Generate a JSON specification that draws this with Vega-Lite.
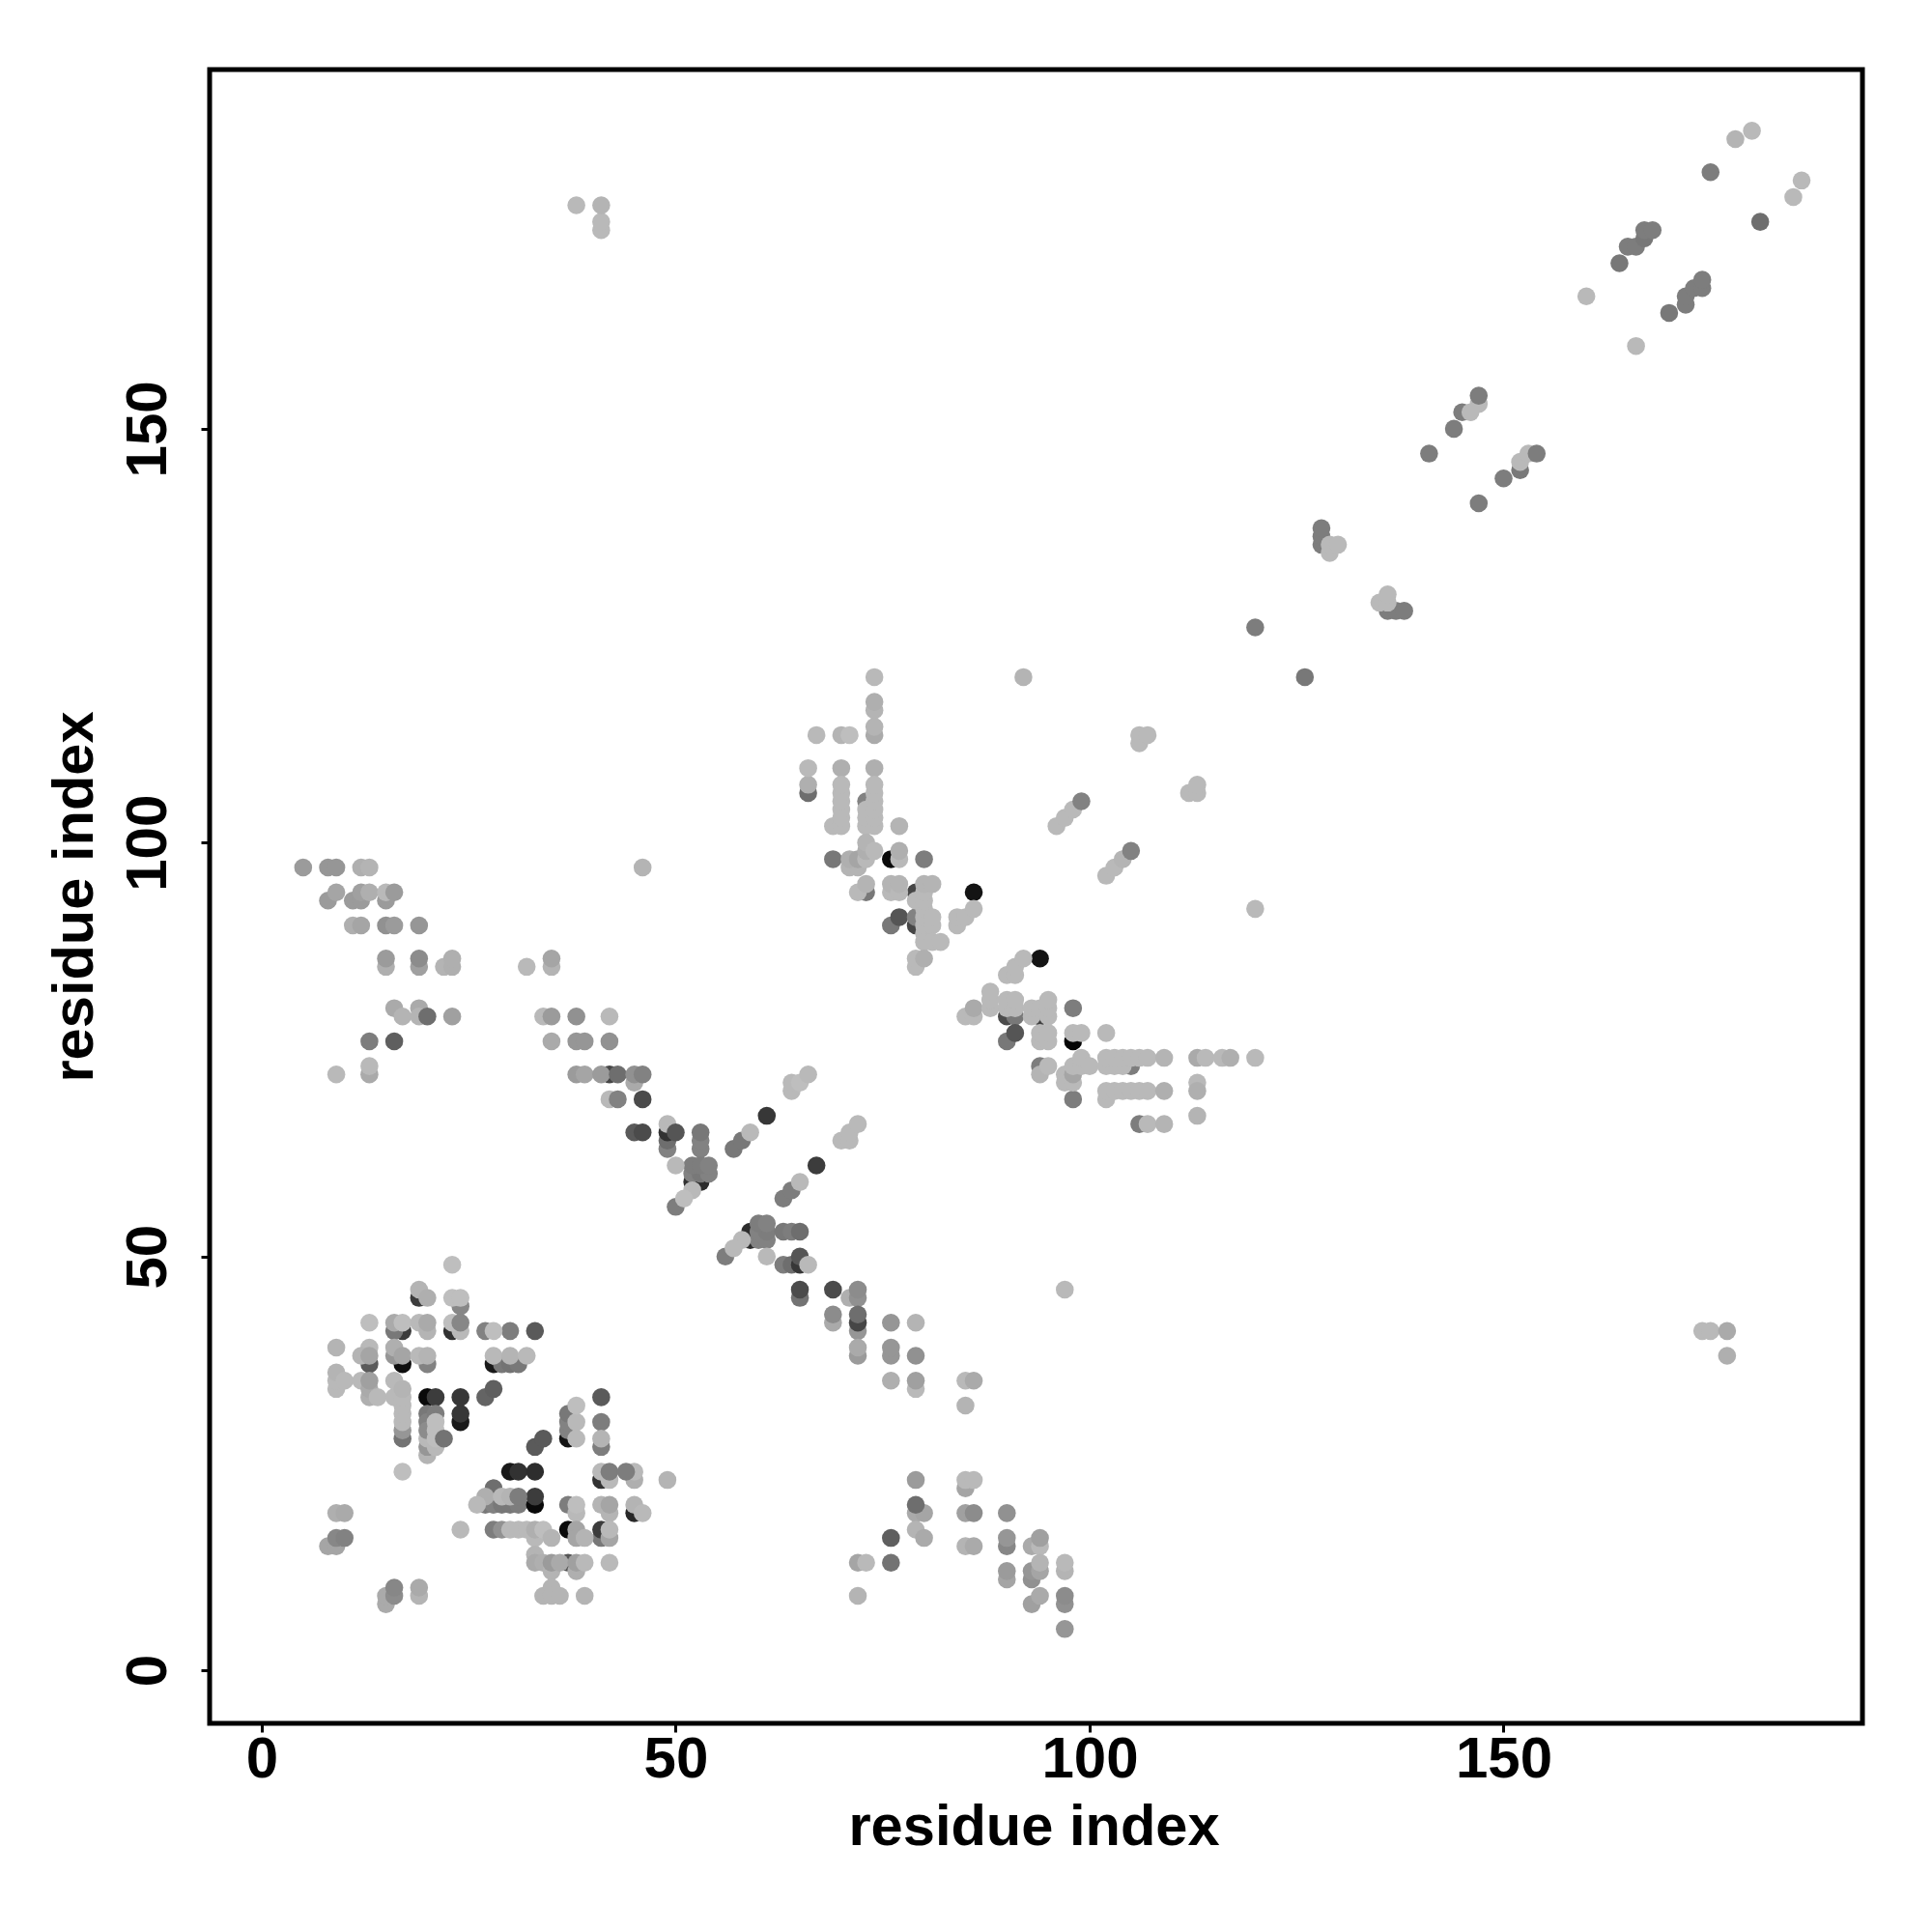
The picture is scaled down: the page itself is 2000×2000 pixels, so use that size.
{"$schema":"https://vega.github.io/schema/vega-lite/v6.json","autosize":{"type":"none"},"padding":{"left":217,"top":72,"right":72,"bottom":216},"width":1711,"height":1712,"background":"white","view":{"stroke":"black","strokeWidth":5,"fill":"white"},"config":{"style":{"cell":{"stroke":"black","strokeWidth":5}},"axis":{"grid":false,"domain":false,"ticks":true,"tickSize":9,"tickWidth":3,"tickColor":"black","labelFont":"Liberation Sans","labelFontWeight":"bold","labelFontSize":60,"labelColor":"black","titleFont":"Liberation Sans","titleFontWeight":"bold","titleFontSize":59.6,"titleColor":"black","labelFlush":false,"labelOverlap":false}},"data":{"values":[
{"x":19,"y":45,"g":60},{"x":17,"y":41,"g":60},{"x":23,"y":41,"g":50},{"x":16,"y":41,"g":120},{"x":27,"y":41,"g":130},{"x":30,"y":41,"g":125},{"x":33,"y":41,"g":90},{"x":13,"y":37,"g":90},{"x":17,"y":37,"g":15},{"x":20,"y":37,"g":130},{"x":28,"y":37,"g":25},{"x":29,"y":37,"g":120},{"x":30,"y":37,"g":115},{"x":31,"y":37,"g":120},{"x":27,"y":33,"g":100},{"x":28,"y":34,"g":95},{"x":20,"y":33,"g":10},{"x":21,"y":33,"g":60},{"x":24,"y":30,"g":25},{"x":24,"y":31,"g":55},{"x":24,"y":33,"g":55},{"x":41,"y":33,"g":90},{"x":17,"y":28,"g":115},{"x":20,"y":31,"g":120},{"x":20,"y":30,"g":130},{"x":21,"y":31,"g":125},{"x":37,"y":28,"g":20},{"x":37,"y":29,"g":130},{"x":37,"y":30,"g":130},{"x":37,"y":31,"g":120},{"x":41,"y":30,"g":125},{"x":41,"y":27,"g":125},{"x":33,"y":27,"g":90},{"x":34,"y":28,"g":90},{"x":30,"y":24,"g":25},{"x":31,"y":24,"g":50},{"x":33,"y":24,"g":45},{"x":41,"y":23,"g":50},{"x":28,"y":22,"g":110},{"x":27,"y":20,"g":120},{"x":28,"y":20,"g":130},{"x":29,"y":20,"g":120},{"x":30,"y":20,"g":120},{"x":31,"y":20,"g":125},{"x":33,"y":20,"g":10},{"x":33,"y":21,"g":60},{"x":37,"y":20,"g":125},{"x":45,"y":19,"g":40},{"x":28,"y":17,"g":125},{"x":37,"y":17,"g":10},{"x":41,"y":16,"g":120},{"x":41,"y":17,"g":60},{"x":37,"y":13,"g":85},
{"x":46,"y":69,"g":75},{"x":45,"y":65,"g":90},{"x":46,"y":65,"g":75},{"x":61,"y":67,"g":55},{"x":57,"y":63,"g":120},{"x":58,"y":64,"g":120},{"x":49,"y":63,"g":130},{"x":49,"y":64,"g":110},{"x":49,"y":65,"g":50},{"x":53,"y":63,"g":130},{"x":53,"y":64,"g":130},{"x":53,"y":65,"g":120},{"x":52,"y":59,"g":50},{"x":53,"y":59,"g":45},{"x":52,"y":60,"g":130},{"x":53,"y":60,"g":120},{"x":54,"y":60,"g":130},{"x":52,"y":61,"g":125},{"x":53,"y":61,"g":125},{"x":54,"y":61,"g":130},{"x":50,"y":56,"g":125},{"x":67,"y":61,"g":60},{"x":63,"y":57,"g":125},{"x":64,"y":58,"g":125},{"x":59,"y":52,"g":45},{"x":59,"y":53,"g":45},{"x":60,"y":52,"g":130},{"x":61,"y":52,"g":130},{"x":60,"y":53,"g":130},{"x":61,"y":53,"g":125},{"x":60,"y":54,"g":125},{"x":61,"y":54,"g":130},{"x":63,"y":53,"g":120},{"x":64,"y":53,"g":125},{"x":65,"y":53,"g":110},{"x":56,"y":50,"g":125},{"x":63,"y":49,"g":125},{"x":64,"y":49,"g":110},{"x":65,"y":49,"g":55},{"x":65,"y":50,"g":85},{"x":69,"y":46,"g":75},{"x":76,"y":16,"g":95},{"x":76,"y":13,"g":115},
{"x":66,"y":106,"g":110},{"x":73,"y":105,"g":130},{"x":69,"y":98,"g":120},{"x":76,"y":98,"g":10},{"x":80,"y":98,"g":125},{"x":73,"y":94,"g":120},{"x":79,"y":94,"g":70},{"x":86,"y":94,"g":20},{"x":76,"y":90,"g":120},{"x":77,"y":91,"g":85},{"x":79,"y":90,"g":70},{"x":79,"y":91,"g":130},{"x":94,"y":86,"g":20},{"x":90,"y":79,"g":75},{"x":91,"y":79,"g":120},{"x":94,"y":79,"g":65},{"x":98,"y":80,"g":125},{"x":90,"y":76,"g":120},{"x":91,"y":77,"g":85},{"x":98,"y":76,"g":5},{"x":94,"y":73,"g":125},{"x":105,"y":73,"g":125},{"x":98,"y":69,"g":125},{"x":106,"y":66,"g":125},
{"x":13,"y":76,"g":125},{"x":16,"y":76,"g":95},{"x":42,"y":72,"g":70},{"x":128,"y":136,"g":125},{"x":128,"y":137,"g":125},{"x":128,"y":138,"g":125},{"x":136,"y":128,"g":125},{"x":137,"y":128,"g":125},{"x":138,"y":128,"g":125},{"x":120,"y":126,"g":125},{"x":126,"y":120,"g":120},{"x":141,"y":147,"g":125},{"x":145,"y":152,"g":125},{"x":144,"y":150,"g":125},{"x":152,"y":145,"g":120},{"x":150,"y":144,"g":125},{"x":147,"y":141,"g":125},{"x":175,"y":181,"g":125},{"x":181,"y":175,"g":110},{"x":164,"y":170,"g":120},{"x":165,"y":172,"g":125},{"x":166,"y":172,"g":125},{"x":167,"y":173,"g":120},{"x":167,"y":174,"g":125},{"x":168,"y":174,"g":125},{"x":170,"y":164,"g":120},{"x":172,"y":165,"g":125},{"x":172,"y":166,"g":125},{"x":173,"y":167,"g":125},{"x":174,"y":167,"g":125},{"x":174,"y":168,"g":125},
{"x":23,"y":49,"g":190},{"x":19,"y":46,"g":180},{"x":20,"y":45,"g":175},{"x":24,"y":44,"g":135},{"x":23,"y":45,"g":190},{"x":24,"y":45,"g":190},{"x":13,"y":42,"g":190},{"x":16,"y":42,"g":170},{"x":17,"y":42,"g":190},{"x":19,"y":42,"g":185},{"x":20,"y":41,"g":180},{"x":20,"y":42,"g":170},{"x":24,"y":41,"g":185},{"x":23,"y":42,"g":190},{"x":28,"y":41,"g":190},{"x":9,"y":39,"g":180},{"x":13,"y":39,"g":185},{"x":16,"y":38,"g":150},{"x":16,"y":39,"g":175},{"x":12,"y":38,"g":180},{"x":13,"y":38,"g":165},{"x":17,"y":38,"g":165},{"x":19,"y":38,"g":185},{"x":20,"y":38,"g":180},{"x":28,"y":38,"g":185},{"x":30,"y":38,"g":180},{"x":32,"y":38,"g":185},{"x":9,"y":34,"g":185},{"x":9,"y":35,"g":185},{"x":9,"y":36,"g":180},{"x":10,"y":35,"g":185},{"x":12,"y":35,"g":185},{"x":13,"y":33,"g":175},{"x":13,"y":34,"g":170},{"x":13,"y":35,"g":160},{"x":14,"y":33,"g":185},{"x":16,"y":33,"g":185},{"x":16,"y":35,"g":185},{"x":17,"y":29,"g":150},{"x":17,"y":30,"g":185},{"x":17,"y":31,"g":185},{"x":17,"y":32,"g":185},{"x":17,"y":33,"g":185},{"x":17,"y":34,"g":180},{"x":20,"y":26,"g":180},{"x":20,"y":27,"g":150},{"x":20,"y":28,"g":185},{"x":20,"y":29,"g":140},{"x":21,"y":27,"g":185},{"x":21,"y":28,"g":190},{"x":21,"y":29,"g":190},{"x":21,"y":30,"g":190},{"x":38,"y":28,"g":185},{"x":38,"y":30,"g":185},{"x":38,"y":32,"g":190},{"x":41,"y":28,"g":180},{"x":17,"y":24,"g":190},{"x":41,"y":24,"g":185},{"x":42,"y":23,"g":185},{"x":45,"y":23,"g":175},{"x":45,"y":24,"g":185},{"x":49,"y":23,"g":180},{"x":27,"y":21,"g":175},{"x":26,"y":20,"g":185},{"x":29,"y":21,"g":185},{"x":30,"y":21,"g":180},{"x":38,"y":19,"g":185},{"x":38,"y":20,"g":190},{"x":41,"y":20,"g":180},{"x":42,"y":19,"g":180},{"x":42,"y":20,"g":165},{"x":45,"y":20,"g":180},{"x":46,"y":19,"g":185},{"x":9,"y":19,"g":175},{"x":10,"y":19,"g":170},{"x":24,"y":17,"g":185},{"x":29,"y":17,"g":145},{"x":30,"y":17,"g":185},{"x":31,"y":17,"g":185},{"x":32,"y":17,"g":185},{"x":33,"y":16,"g":185},{"x":33,"y":17,"g":175},{"x":34,"y":17,"g":190},{"x":35,"y":16,"g":180},{"x":38,"y":17,"g":165},{"x":38,"y":16,"g":165},{"x":39,"y":16,"g":180},{"x":42,"y":16,"g":165},{"x":42,"y":17,"g":185},{"x":8,"y":15,"g":165},{"x":9,"y":15,"g":165},{"x":33,"y":14,"g":180},{"x":33,"y":13,"g":170},{"x":34,"y":13,"g":175},{"x":35,"y":12,"g":180},{"x":35,"y":13,"g":155},{"x":36,"y":13,"g":170},{"x":38,"y":12,"g":175},{"x":38,"y":13,"g":160},{"x":39,"y":13,"g":185},{"x":42,"y":13,"g":185},{"x":15,"y":8,"g":170},{"x":15,"y":9,"g":170},{"x":19,"y":9,"g":180},{"x":19,"y":10,"g":170},{"x":35,"y":10,"g":180},{"x":34,"y":9,"g":180},{"x":35,"y":9,"g":180},{"x":36,"y":9,"g":180},{"x":39,"y":9,"g":180},
{"x":64,"y":70,"g":185},{"x":64,"y":71,"g":185},{"x":65,"y":71,"g":190},{"x":66,"y":72,"g":185},{"x":59,"y":65,"g":185},{"x":49,"y":66,"g":185},{"x":50,"y":61,"g":185},{"x":52,"y":58,"g":185},{"x":51,"y":57,"g":190},{"x":70,"y":64,"g":185},{"x":71,"y":64,"g":185},{"x":71,"y":65,"g":185},{"x":72,"y":66,"g":185},{"x":65,"y":59,"g":185},{"x":58,"y":52,"g":185},{"x":57,"y":51,"g":185},{"x":61,"y":50,"g":185},{"x":66,"y":49,"g":185},{"x":97,"y":46,"g":185},{"x":71,"y":45,"g":175},{"x":72,"y":45,"g":145},{"x":72,"y":46,"g":140},{"x":69,"y":42,"g":170},{"x":72,"y":41,"g":150},{"x":76,"y":42,"g":150},{"x":79,"y":42,"g":180},{"x":72,"y":38,"g":155},{"x":72,"y":39,"g":170},{"x":76,"y":38,"g":150},{"x":76,"y":39,"g":150},{"x":79,"y":38,"g":145},{"x":76,"y":35,"g":175},{"x":79,"y":34,"g":185},{"x":79,"y":35,"g":160},{"x":85,"y":35,"g":185},{"x":86,"y":35,"g":170},{"x":85,"y":32,"g":180},{"x":79,"y":23,"g":155},{"x":85,"y":22,"g":165},{"x":85,"y":23,"g":185},{"x":86,"y":23,"g":185},{"x":79,"y":19,"g":170},{"x":80,"y":19,"g":165},{"x":85,"y":19,"g":160},{"x":86,"y":19,"g":140},{"x":90,"y":19,"g":145},{"x":79,"y":17,"g":180},{"x":80,"y":16,"g":170},{"x":85,"y":15,"g":180},{"x":86,"y":15,"g":170},{"x":90,"y":15,"g":135},{"x":90,"y":16,"g":150},{"x":93,"y":15,"g":170},{"x":94,"y":15,"g":185},{"x":94,"y":16,"g":160},{"x":72,"y":13,"g":165},{"x":73,"y":13,"g":185},{"x":97,"y":12,"g":180},{"x":97,"y":13,"g":185},{"x":90,"y":11,"g":165},{"x":90,"y":12,"g":155},{"x":93,"y":11,"g":145},{"x":93,"y":12,"g":150},{"x":94,"y":12,"g":165},{"x":94,"y":13,"g":180},{"x":72,"y":9,"g":180},{"x":93,"y":8,"g":160},{"x":94,"y":9,"g":170},{"x":97,"y":8,"g":145},{"x":97,"y":9,"g":140},{"x":97,"y":5,"g":150},
{"x":74,"y":120,"g":185},{"x":92,"y":120,"g":180},{"x":74,"y":116,"g":180},{"x":74,"y":117,"g":175},{"x":74,"y":113,"g":170},{"x":74,"y":114,"g":180},{"x":67,"y":113,"g":185},{"x":70,"y":113,"g":180},{"x":71,"y":113,"g":190},{"x":106,"y":112,"g":185},{"x":106,"y":113,"g":185},{"x":107,"y":113,"g":185},{"x":66,"y":107,"g":175},{"x":66,"y":109,"g":185},{"x":70,"y":109,"g":175},{"x":74,"y":109,"g":175},{"x":112,"y":106,"g":185},{"x":113,"y":106,"g":185},{"x":113,"y":107,"g":185},{"x":69,"y":102,"g":185},{"x":70,"y":102,"g":185},{"x":70,"y":103,"g":185},{"x":70,"y":104,"g":185},{"x":70,"y":105,"g":185},{"x":70,"y":106,"g":185},{"x":70,"y":107,"g":185},{"x":73,"y":102,"g":185},{"x":73,"y":103,"g":185},{"x":73,"y":104,"g":185},{"x":74,"y":102,"g":185},{"x":74,"y":103,"g":185},{"x":74,"y":104,"g":185},{"x":74,"y":105,"g":185},{"x":74,"y":106,"g":185},{"x":74,"y":107,"g":185},{"x":77,"y":102,"g":180},{"x":96,"y":102,"g":185},{"x":97,"y":103,"g":185},{"x":98,"y":104,"g":185},{"x":99,"y":105,"g":130},{"x":71,"y":97,"g":180},{"x":72,"y":97,"g":180},{"x":71,"y":98,"g":175},{"x":72,"y":98,"g":165},{"x":73,"y":98,"g":185},{"x":73,"y":99,"g":175},{"x":73,"y":100,"g":180},{"x":74,"y":99,"g":185},{"x":77,"y":98,"g":185},{"x":77,"y":99,"g":175},{"x":102,"y":96,"g":185},{"x":103,"y":97,"g":185},{"x":104,"y":98,"g":180},{"x":105,"y":99,"g":130},{"x":72,"y":94,"g":185},{"x":73,"y":95,"g":180},{"x":76,"y":94,"g":185},{"x":76,"y":95,"g":180},{"x":77,"y":94,"g":185},{"x":77,"y":95,"g":180},{"x":79,"y":93,"g":185},{"x":80,"y":89,"g":185},{"x":80,"y":90,"g":185},{"x":80,"y":91,"g":185},{"x":80,"y":92,"g":185},{"x":80,"y":93,"g":185},{"x":80,"y":94,"g":185},{"x":80,"y":95,"g":180},{"x":81,"y":95,"g":180},{"x":81,"y":90,"g":185},{"x":81,"y":91,"g":185},{"x":84,"y":90,"g":185},{"x":84,"y":91,"g":185},{"x":85,"y":91,"g":185},{"x":86,"y":92,"g":185},{"x":120,"y":92,"g":185},{"x":80,"y":88,"g":185},{"x":81,"y":88,"g":185},{"x":82,"y":88,"g":185},{"x":79,"y":85,"g":185},{"x":79,"y":86,"g":185},{"x":80,"y":86,"g":175},{"x":90,"y":84,"g":185},{"x":91,"y":84,"g":185},{"x":91,"y":85,"g":185},{"x":92,"y":86,"g":185},{"x":85,"y":79,"g":185},{"x":86,"y":79,"g":185},{"x":86,"y":80,"g":170},{"x":88,"y":80,"g":185},{"x":88,"y":81,"g":185},{"x":88,"y":82,"g":185},{"x":90,"y":80,"g":185},{"x":90,"y":81,"g":185},{"x":91,"y":80,"g":185},{"x":91,"y":81,"g":185},{"x":93,"y":79,"g":185},{"x":93,"y":80,"g":185},{"x":94,"y":80,"g":185},{"x":95,"y":79,"g":185},{"x":95,"y":80,"g":185},{"x":95,"y":81,"g":185},{"x":94,"y":76,"g":185},{"x":94,"y":77,"g":185},{"x":95,"y":76,"g":185},{"x":95,"y":77,"g":185},{"x":98,"y":77,"g":185},{"x":99,"y":77,"g":185},{"x":102,"y":77,"g":185},
{"x":94,"y":72,"g":180},{"x":95,"y":73,"g":185},{"x":97,"y":71,"g":185},{"x":98,"y":71,"g":185},{"x":97,"y":72,"g":185},{"x":98,"y":72,"g":165},{"x":98,"y":73,"g":185},{"x":99,"y":73,"g":185},{"x":99,"y":74,"g":185},{"x":100,"y":73,"g":185},{"x":102,"y":73,"g":185},{"x":103,"y":73,"g":185},{"x":104,"y":73,"g":185},{"x":102,"y":74,"g":185},{"x":103,"y":74,"g":185},{"x":104,"y":74,"g":185},{"x":105,"y":74,"g":185},{"x":106,"y":74,"g":185},{"x":107,"y":74,"g":185},{"x":109,"y":74,"g":180},{"x":113,"y":74,"g":170},{"x":114,"y":74,"g":185},{"x":116,"y":74,"g":185},{"x":117,"y":74,"g":175},{"x":120,"y":74,"g":185},{"x":113,"y":71,"g":185},{"x":113,"y":70,"g":175},{"x":102,"y":69,"g":185},{"x":102,"y":70,"g":185},{"x":103,"y":70,"g":185},{"x":104,"y":70,"g":185},{"x":105,"y":70,"g":185},{"x":106,"y":70,"g":185},{"x":107,"y":70,"g":185},{"x":109,"y":70,"g":175},{"x":113,"y":67,"g":180},{"x":107,"y":66,"g":185},{"x":109,"y":66,"g":180},
{"x":5,"y":97,"g":155},{"x":8,"y":97,"g":150},{"x":9,"y":97,"g":150},{"x":12,"y":97,"g":175},{"x":13,"y":97,"g":180},{"x":46,"y":97,"g":180},{"x":8,"y":93,"g":155},{"x":9,"y":94,"g":165},{"x":11,"y":93,"g":155},{"x":12,"y":93,"g":155},{"x":12,"y":94,"g":160},{"x":13,"y":94,"g":175},{"x":15,"y":93,"g":155},{"x":15,"y":94,"g":185},{"x":16,"y":94,"g":155},{"x":11,"y":90,"g":175},{"x":12,"y":90,"g":165},{"x":15,"y":90,"g":145},{"x":16,"y":90,"g":155},{"x":19,"y":90,"g":150},{"x":15,"y":85,"g":175},{"x":15,"y":86,"g":155},{"x":19,"y":85,"g":160},{"x":19,"y":86,"g":140},{"x":22,"y":85,"g":180},{"x":23,"y":85,"g":175},{"x":23,"y":86,"g":175},{"x":32,"y":85,"g":185},{"x":35,"y":85,"g":180},{"x":35,"y":86,"g":165},{"x":16,"y":80,"g":170},{"x":19,"y":80,"g":170},{"x":17,"y":79,"g":180},{"x":19,"y":79,"g":180},{"x":20,"y":79,"g":110},{"x":23,"y":79,"g":160},{"x":34,"y":79,"g":185},{"x":35,"y":79,"g":155},{"x":38,"y":79,"g":145},{"x":42,"y":79,"g":185},{"x":35,"y":76,"g":170},{"x":38,"y":76,"g":150},{"x":39,"y":76,"g":150},{"x":42,"y":76,"g":145},{"x":13,"y":72,"g":170},{"x":13,"y":73,"g":185},{"x":9,"y":72,"g":185},{"x":38,"y":72,"g":155},{"x":39,"y":72,"g":165},{"x":41,"y":72,"g":155},{"x":43,"y":72,"g":110},{"x":45,"y":71,"g":170},{"x":45,"y":72,"g":145},{"x":46,"y":72,"g":130},{"x":42,"y":69,"g":185},{"x":43,"y":69,"g":130},
{"x":38,"y":177,"g":185},{"x":41,"y":174,"g":185},{"x":41,"y":175,"g":185},{"x":41,"y":177,"g":180},{"x":174,"y":41,"g":185},{"x":175,"y":41,"g":185},{"x":177,"y":38,"g":175},{"x":177,"y":41,"g":170},{"x":129,"y":135,"g":185},{"x":129,"y":136,"g":185},{"x":130,"y":136,"g":185},{"x":135,"y":129,"g":185},{"x":136,"y":129,"g":185},{"x":136,"y":130,"g":185},{"x":147,"y":153,"g":185},{"x":146,"y":152,"g":185},{"x":147,"y":154,"g":125},{"x":152,"y":146,"g":185},{"x":153,"y":147,"g":185},{"x":154,"y":147,"g":125},{"x":178,"y":185,"g":180},{"x":180,"y":186,"g":185},{"x":185,"y":178,"g":185},{"x":186,"y":180,"g":185},{"x":160,"y":166,"g":185},{"x":166,"y":160,"g":185},
{"x":9,"y":16,"g":135},{"x":10,"y":16,"g":130},{"x":16,"y":9,"g":140},{"x":16,"y":10,"g":135},{"x":24,"y":42,"g":135},{"x":42,"y":24,"g":125},{"x":44,"y":24,"g":125},{"x":22,"y":28,"g":115},{"x":31,"y":21,"g":125},{"x":50,"y":65,"g":85},{"x":65,"y":45,"g":115},{"x":65,"y":46,"g":75},{"x":69,"y":43,"g":140},{"x":72,"y":42,"g":70},{"x":72,"y":43,"g":110},{"x":79,"y":20,"g":110}
]},"layer":[{"mark":{"type":"point","filled":true,"opacity":1,"strokeWidth":0,"size":345,"clip":false},"encoding":{"x":{"field":"x","type":"quantitative","scale":{"domain":[-6.3,193.35],"nice":false,"zero":false},"axis":{"values":[0,50,100,150],"title":"residue index","labelPadding":-1,"labelBaseline":"top","titlePadding":11,"titleX":853}},"y":{"field":"y","type":"quantitative","scale":{"domain":[-6.4,193.4],"nice":false,"zero":false},"axis":{"values":[0,50,100,150],"title":"residue index","labelAngle":270,"labelAlign":"center","labelBaseline":"bottom","labelPadding":24,"titlePadding":15}},"color":{"field":"g","type":"quantitative","legend":null,"scale":{"domain":[0,255],"range":["#000000","#ffffff"],"interpolate":"rgb"}}}}]}
